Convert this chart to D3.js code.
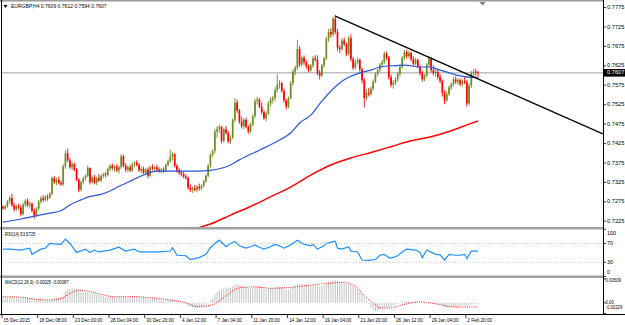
<!DOCTYPE html>
<html><head><meta charset="utf-8">
<script src="https://cdn.jsdelivr.net/npm/d3@7"></script>
<style>body{margin:0;background:#fff}svg{display:block}text{font-family:"Liberation Sans",Arial,sans-serif}</style>
</head><body><svg id="c" width="625" height="325"></svg>
<script>
// ---- DATA ----
const symbolTitle = "EURGBP,H4  0.7609 0.7612 0.7594 0.7607";
// [open, high, low, close] per H4 bar
const candles = [
[.7262,.7266,.7255,.7258],[.7258,.7268,.7254,.7264],[.7264,.7280,.7260,.7276],[.7276,.7290,.7270,.7285],[.7285,.7296,.7262,.7266],
[.7266,.7272,.7250,.7256],[.7256,.7268,.7252,.7264],[.7264,.7270,.7255,.7260],[.7260,.7266,.7238,.7244],[.7244,.7272,.7240,.7268],
[.7268,.7282,.7262,.7278],[.7278,.7284,.7262,.7266],[.7266,.7276,.7258,.7270],[.7270,.7274,.7248,.7252],[.7252,.7258,.7232,.7240],
[.7240,.7262,.7236,.7258],[.7258,.7280,.7254,.7276],[.7276,.7290,.7270,.7284],[.7284,.7292,.7274,.7280],[.7280,.7292,.7276,.7288],
[.7288,.7294,.7278,.7286],[.7286,.7300,.7282,.7296],[.7296,.7340,.7292,.7336],[.7336,.7342,.7320,.7326],[.7326,.7338,.7318,.7332],
[.7332,.7340,.7320,.7324],[.7324,.7330,.7316,.7320],[.7320,.7372,.7316,.7366],[.7366,.7408,.7360,.7400],[.7400,.7412,.7378,.7382],
[.7382,.7388,.7360,.7364],[.7364,.7378,.7356,.7372],[.7372,.7376,.7354,.7358],[.7358,.7362,.7328,.7332],[.7332,.7336,.7300,.7306],
[.7306,.7330,.7302,.7326],[.7326,.7340,.7320,.7336],[.7336,.7346,.7330,.7342],[.7342,.7368,.7338,.7362],[.7362,.7364,.7320,.7326],
[.7326,.7342,.7322,.7338],[.7338,.7344,.7320,.7324],[.7324,.7340,.7318,.7336],[.7336,.7346,.7326,.7330],[.7330,.7346,.7326,.7342],
[.7342,.7350,.7336,.7346],[.7346,.7352,.7338,.7344],[.7344,.7364,.7340,.7360],[.7360,.7372,.7354,.7368],[.7368,.7374,.7356,.7362],
[.7362,.7370,.7352,.7366],[.7366,.7372,.7352,.7356],[.7356,.7368,.7348,.7364],[.7364,.7398,.7360,.7392],[.7392,.7396,.7364,.7368],
[.7368,.7374,.7352,.7358],[.7358,.7368,.7350,.7364],[.7364,.7370,.7352,.7356],[.7356,.7376,.7352,.7372],[.7372,.7380,.7364,.7376],
[.7376,.7382,.7366,.7370],[.7370,.7374,.7352,.7356],[.7356,.7366,.7348,.7360],[.7360,.7366,.7346,.7350],[.7350,.7362,.7344,.7358],
[.7358,.7364,.7336,.7342],[.7342,.7368,.7340,.7364],[.7364,.7372,.7356,.7360],[.7360,.7368,.7352,.7364],[.7364,.7370,.7354,.7358],
[.7358,.7364,.7350,.7354],[.7354,.7362,.7348,.7358],[.7358,.7364,.7350,.7356],[.7356,.7374,.7352,.7370],[.7370,.7384,.7366,.7380],
[.7380,.7410,.7376,.7392],[.7392,.7404,.7382,.7398],[.7398,.7400,.7364,.7368],[.7368,.7372,.7350,.7356],[.7356,.7362,.7344,.7350],
[.7350,.7356,.7340,.7346],[.7346,.7352,.7336,.7340],[.7340,.7346,.7332,.7336],[.7336,.7340,.7306,.7312],[.7312,.7320,.7300,.7306],
[.7306,.7314,.7298,.7310],[.7310,.7318,.7302,.7306],[.7306,.7318,.7300,.7314],[.7314,.7322,.7304,.7310],[.7310,.7320,.7304,.7316],
[.7316,.7332,.7312,.7328],[.7328,.7346,.7324,.7342],[.7342,.7372,.7338,.7368],[.7368,.7400,.7362,.7396],[.7396,.7410,.7390,.7406],
[.7406,.7462,.7400,.7456],[.7456,.7470,.7440,.7462],[.7462,.7474,.7452,.7468],[.7468,.7470,.7426,.7432],[.7432,.7466,.7428,.7462],
[.7462,.7470,.7448,.7452],[.7452,.7458,.7426,.7430],[.7430,.7446,.7424,.7440],[.7440,.7490,.7436,.7486],[.7486,.7542,.7480,.7530],
[.7530,.7538,.7504,.7510],[.7510,.7514,.7476,.7482],[.7482,.7494,.7464,.7470],[.7470,.7490,.7462,.7486],[.7486,.7492,.7464,.7468],
[.7468,.7472,.7450,.7456],[.7456,.7478,.7452,.7474],[.7474,.7500,.7470,.7496],[.7496,.7540,.7490,.7534],[.7534,.7546,.7526,.7538],
[.7538,.7542,.7516,.7520],[.7520,.7530,.7500,.7506],[.7506,.7512,.7486,.7490],[.7490,.7508,.7482,.7502],[.7502,.7534,.7498,.7528],
[.7528,.7544,.7520,.7538],[.7538,.7548,.7528,.7542],[.7542,.7570,.7534,.7562],[.7562,.7604,.7556,.7576],[.7576,.7588,.7566,.7580],
[.7580,.7584,.7556,.7560],[.7560,.7566,.7530,.7536],[.7536,.7540,.7512,.7520],[.7520,.7546,.7516,.7542],[.7542,.7586,.7538,.7580],
[.7580,.7616,.7574,.7610],[.7610,.7626,.7600,.7620],[.7620,.7692,.7614,.7668],[.7668,.7676,.7622,.7628],[.7628,.7650,.7624,.7646],
[.7646,.7652,.7628,.7634],[.7634,.7640,.7618,.7624],[.7624,.7628,.7608,.7614],[.7614,.7630,.7610,.7626],[.7626,.7650,.7620,.7644],
[.7644,.7652,.7636,.7640],[.7640,.7652,.7600,.7606],[.7606,.7614,.7590,.7600],[.7600,.7630,.7596,.7626],[.7626,.7648,.7620,.7644],
[.7644,.7700,.7640,.7694],[.7694,.7720,.7686,.7712],[.7712,.7722,.7698,.7706],[.7706,.7752,.7700,.7746],[.7746,.7756,.7706,.7712],
[.7712,.7720,.7664,.7672],[.7672,.7678,.7658,.7668],[.7668,.7696,.7664,.7690],[.7690,.7698,.7676,.7680],[.7680,.7684,.7650,.7656],
[.7656,.7702,.7652,.7696],[.7696,.7706,.7636,.7642],[.7642,.7648,.7614,.7620],[.7620,.7640,.7616,.7634],[.7634,.7646,.7628,.7640],
[.7640,.7644,.7610,.7616],[.7616,.7620,.7580,.7588],[.7588,.7594,.7518,.7542],[.7542,.7564,.7536,.7556],[.7556,.7568,.7546,.7552],
[.7552,.7572,.7548,.7566],[.7566,.7590,.7560,.7584],[.7584,.7608,.7580,.7604],[.7604,.7618,.7598,.7614],[.7614,.7632,.7608,.7628],
[.7628,.7640,.7620,.7634],[.7634,.7662,.7630,.7656],[.7656,.7662,.7640,.7646],[.7646,.7650,.7590,.7596],[.7596,.7602,.7570,.7576],
[.7576,.7588,.7566,.7582],[.7582,.7596,.7576,.7590],[.7590,.7610,.7584,.7604],[.7604,.7628,.7598,.7622],[.7622,.7650,.7618,.7646],
[.7646,.7666,.7640,.7660],[.7660,.7666,.7644,.7650],[.7650,.7664,.7644,.7658],[.7658,.7662,.7636,.7642],[.7642,.7650,.7624,.7630],
[.7630,.7646,.7626,.7640],[.7640,.7644,.7618,.7622],[.7622,.7628,.7600,.7606],[.7606,.7612,.7584,.7590],[.7590,.7604,.7586,.7600],
[.7600,.7632,.7596,.7628],[.7628,.7650,.7624,.7644],[.7644,.7648,.7608,.7614],[.7614,.7626,.7600,.7606],[.7606,.7616,.7596,.7610],
[.7610,.7614,.7590,.7596],[.7596,.7604,.7580,.7586],[.7586,.7590,.7546,.7556],[.7556,.7562,.7526,.7536],[.7536,.7560,.7532,.7552],
[.7552,.7574,.7548,.7570],[.7570,.7582,.7562,.7578],[.7578,.7596,.7572,.7590],[.7590,.7598,.7578,.7584],[.7584,.7594,.7576,.7588],
[.7588,.7592,.7572,.7578],[.7578,.7590,.7572,.7586],[.7586,.7596,.7578,.7582],[.7582,.7588,.7520,.7528],[.7528,.7580,.7524,.7574],
[.7574,.7612,.7568,.7606],[.7606,.7616,.7596,.7610],[.7610,.7618,.7598,.7609],[.7609,.7612,.7594,.7607]
];
const lastClose = 0.7607;

// Moving averages (bar index, value)
const maBlueBars = [0,8,13,21,26,30,35,39,43,48,52,58,63,66,70,88,93,102,106,115,124,129,133,138,142,149,153,160,165,169,174,180,187,191,196,200,205,213];
const maBlueVals = [.7223,.7231,.7237,.7246,.7252,.7267,.7280,.7289,.7293,.7303,.7315,.7331,.7344,.7351,.7354,.7354,.7356,.7370,.7383,.7408,.7434,.7452,.7478,.7498,.7527,.7571,.7589,.7607,.7614,.7622,.7625,.7627,.7622,.7622,.7614,.7607,.7599,.7594];
const maRedBars = [86,88,93,102,111,120,129,138,147,156,165,174,183,191,200,209,213];
const maRedVals = [.7205,.7209,.7218,.7241,.7263,.7288,.7313,.7344,.7370,.7388,.7402,.7417,.7432,.7441,.7456,.7475,.7483];

// Trend line (bar index, price)
const trendBars = [149, 269];
const trendVals = [0.7753, 0.7450];

// RSI(14)
const rsiBars = [0,3,8,12,13,17,19,21,23,26,28,30,33,37,39,41,43,48,52,55,59,61,66,70,75,76,78,82,84,86,88,91,93,95,97,100,102,104,106,109,111,113,115,117,120,122,124,126,129,132,135,138,139,141,144,145,148,149,150,152,155,156,159,161,164,167,169,171,173,174,177,179,181,185,186,187,188,190,194,196,198,200,203,205,207,208,210,213];
const rsiVals = [58,58,56,60,47,58,60,70,69,68,79,70,51,58,51,56,52,56,62,54,58,52,52,52,54,61,45,44,36,38,40,47,61,70,77,63,70,74,65,60,63,67,62,58,63,68,65,60,67,77,68,65,68,58,65,70,74,75,60,58,63,54,52,35,34,36,45,47,40,39,44,52,58,56,54,51,40,56,47,46,35,47,45,45,47,38,54,53.57];

// MACD(12,26,9) main (histogram) per bar
const macdMain = [
.0013,.0013,.0012,.0013,.0013,.0012,.0011,.0011,.0010,.0010,.0011,.0011,
.0010,.0009,.0008,.0007,.0007,.0007,.0007,.0006,.0005,.0005,.0008,.0010,
.0011,.0011,.0011,.0016,.0024,.0028,.0030,.0031,
.0031,.0030,.0027,.0025,.0024,.0023,
.0023,.0022,.0021,.0019,
.0018,.0016,.0015,.0014,.0013,.0013,.0013,
.0013,.0013,.0012,.0012,.0014,.0014,.0013,.0012,.0012,
.0013,.0014,.0014,.0013,.0012,.0011,.0011,
.0009,.0010,.0010,.0010,.0009,.0008,
.0006,.0005,.0005,.0006,.0007,.0007,.0005,
.0003,.0001,.0000,-.0001,-.0002,
-.0006,-.0009,-.0010,-.0011,-.0011,-.0010,
-.0009,-.0007,-.0004,.0000,.0005,
.0010,.0018,.0023,.0027,
.0028,.0031,.0033,.0032,.0033,
.0036,.0040,.0040,.0039,.0037,.0036,
.0034,.0031,.0030,.0031,.0034,.0035,.0034,.0032,.0029,
.0029,.0030,.0031,.0032,.0034,.0035,.0035,.0034,.0031,
.0028,.0028,.0031,.0034,.0036,.0041,.0040,
.0040,.0040,.0039,.0037,.0037,.0038,.0038,.0036,.0034,
.0035,.0037,.0041,.0044,.0045,
.0048,.0048,.0046,.0044,.0045,.0044,
.0041,.0042,.0039,.0035,.0033,
.0031,.0027,.0020,.0010,
.0005,-.0003,-.0010,-.0015,-.0018,-.0017,-.0015,-.0013,
-.0011,-.0010,-.0010,-.0009,
-.0006,-.0004,-.0002,.0000,
.0003,.0004,.0004,.0004,.0003,.0002,.0002,
.0001,.0000,-.0002,-.0002,.0000,.0001,
.0000,-.0001,-.0002,-.0003,-.0004,-.0006,-.0009,
-.0010,-.0009,-.0009,-.0008,-.0008,-.0007,-.0007,
-.0006,-.0006,-.0009,-.0006,-.0004,-.0003,-.0003,-.00025
];
const signalBars = [0,8,14,21,26,30,34,38,44,50,59,66,75,82,87,91,95,100,106,113,120,126,133,140,149,153,156,159,162,166,169,174,178,183,187,191,196,200,205,213];
const signalVals = [.0013,.0012,.0008,.0006,.0009,.0020,.0027,.0025,.0018,.0013,.0013,.0011,.0006,.0000,-.0008,-.0007,-.0002,.0015,.0032,.0034,.0031,.0032,.0035,.0039,.0043,.0044,.0040,.0032,.0015,.0000,-.0011,-.0011,-.0006,.0000,.0002,.0000,-.0004,-.0008,-.0009,-.00087];

// Axis ticks
const priceTicks = [0.7775,0.7725,0.7675,0.7625,0.7575,0.7525,0.7475,0.7425,0.7375,0.7325,0.7275,0.7225];
const rsiTicks = [100,70,30,0];
const macdTicks = [0.00509,0.00,-0.00229];
const macdTickLabels = ["0.00509","0.00","-0.00229"];
const timeBars = [0,16,32,48,64,80,96,112,128,144,160,176,192,208];
const timeLabels = ["15 Dec 2015","18 Dec 08:00","23 Dec 00:00","28 Dec 04:00","30 Dec 20:00","4 Jan 12:00","7 Jan 04:00","11 Jan 20:00","14 Jan 12:00","19 Jan 04:00","21 Jan 20:00","26 Jan 12:00","29 Jan 04:00","2 Feb 20:00"];
const rsiTitle = "RSI(14) 53.5725";
const macdTitle = "MACD(12,26,9) -0.00025 -0.00087";

// ---- LAYOUT ----
const svg = d3.select("#c");
const L = 2, R = 603;
const main = {top: 2, bottom: 227};
const rsiP = {top: 229.5, bottom: 275.5};
const macdP = {top: 278, bottom: 314};
const FS = 6;

const x = d3.scaleLinear().domain([0, 213]).range([3, 478]);
const yP = d3.scaleLinear().domain([0.7225, 0.7775]).range([221.3, 7.5]);
const yR = d3.scaleLinear().domain([0, 100]).range([276.5, 229.3]);
const yM = d3.scaleLinear().domain([-0.00229, 0.00509]).range([313.5, 279]);

// narrow text helper (MT4 small font is narrow)
function ntext(sel, tx, ty, str, size, sx, fill) {
  return sel.append("text").attr("transform", `translate(${tx},${ty}) scale(${sx},1)`)
    .attr("dominant-baseline", "middle").attr("font-size", size).attr("fill", fill || "#000").text(str);
}

svg.append("rect").attr("width", 625).attr("height", 325).attr("fill", "#fff");

const defs = svg.append("defs");
function clip(id, p){ defs.append("clipPath").attr("id", id).append("rect").attr("x", L).attr("y", p.top).attr("width", R - L).attr("height", p.bottom - p.top); }
clip("cm", main); clip("cr", rsiP); clip("cd", macdP);

// frame
svg.append("rect").attr("x", 0).attr("y", 0).attr("width", R).attr("height", 1.5).attr("fill", "#9a9a9a");
svg.append("rect").attr("x", 0).attr("y", 227).attr("width", R).attr("height", 2.5).attr("fill", "#a0a0a0");
svg.append("rect").attr("x", 0).attr("y", 275.5).attr("width", R).attr("height", 2.5).attr("fill", "#a0a0a0");
svg.append("line").attr("x1", 0).attr("x2", 625).attr("y1", 314.5).attr("y2", 314.5).attr("stroke", "#000").attr("stroke-width", 1);
svg.append("line").attr("x1", 1.5).attr("x2", 1.5).attr("y1", 0).attr("y2", 314.5).attr("stroke", "#000").attr("stroke-width", 1);
svg.append("line").attr("x1", R + 0.5).attr("x2", R + 0.5).attr("y1", 0).attr("y2", 314.5).attr("stroke", "#000").attr("stroke-width", 1);

// ---- MAIN PANEL ----
const gm = svg.append("g").attr("clip-path", "url(#cm)");
gm.append("line").attr("x1", L).attr("x2", R).attr("y1", yP(lastClose)).attr("y2", yP(lastClose))
  .attr("stroke", "#c0c0c0").attr("stroke-width", 1.6);

const up = "#6b8e23", dn = "#ff0000";
const cg = gm.append("g");
cg.selectAll("line.w").data(candles).join("line")
  .attr("x1", (d, i) => x(i)).attr("x2", (d, i) => x(i))
  .attr("y1", d => yP(d[1])).attr("y2", d => yP(d[2]))
  .attr("stroke", d => d[3] >= d[0] ? up : dn).attr("stroke-width", 0.9);
cg.selectAll("rect.b").data(candles).join("rect")
  .attr("x", (d, i) => x(i) - 0.85).attr("width", 1.7)
  .attr("y", d => yP(Math.max(d[0], d[3])))
  .attr("height", d => Math.max(0.8, Math.abs(yP(d[0]) - yP(d[3]))))
  .attr("fill", d => d[3] >= d[0] ? up : dn);

const lineFn = d3.line().curve(d3.curveMonotoneX);
gm.append("path").attr("d", lineFn(maBlueBars.map((b, i) => [x(b), yP(maBlueVals[i])])))
  .attr("fill", "none").attr("stroke", "#2a55d6").attr("stroke-width", 1.2);
gm.append("path").attr("d", lineFn(maRedBars.map((b, i) => [x(b), yP(maRedVals[i])])))
  .attr("fill", "none").attr("stroke", "#ff0000").attr("stroke-width", 1.5);
gm.append("path").attr("d", d3.line()(trendBars.map((b, i) => [x(b), yP(trendVals[i])])))
  .attr("fill", "none").attr("stroke", "#000").attr("stroke-width", 1.3);

// title
svg.append("path").attr("d", "M3.5,5 L7.5,5 L5.5,8 Z").attr("fill", "#000");
ntext(svg, 11, 6.5, symbolTitle, 6, 0.84);
// shift marker
svg.append("path").attr("d", "M479.5,2 L485.5,2 L482.5,5.5 Z").attr("fill", "#7a7a7a");

// price axis
const pa = svg.append("g");
pa.selectAll("line").data(priceTicks).join("line")
  .attr("x1", R).attr("x2", R + 3).attr("y1", d => yP(d)).attr("y2", d => yP(d)).attr("stroke", "#000").attr("stroke-width", 0.8);
priceTicks.forEach(d => ntext(pa, R + 4, yP(d), d.toFixed(4), FS, 0.95));
svg.append("rect").attr("x", R + 1).attr("y", yP(lastClose) - 3.8).attr("width", 21).attr("height", 7.6).attr("fill", "#000");
ntext(svg, R + 4, yP(lastClose), lastClose.toFixed(4), FS, 0.95, "#fff");

// ---- RSI PANEL ----
const gr = svg.append("g").attr("clip-path", "url(#cr)");
[70, 30].forEach(v => gr.append("line").attr("x1", L).attr("x2", R).attr("y1", yR(v)).attr("y2", yR(v))
  .attr("stroke", "#b0b0b0").attr("stroke-width", 0.8).attr("stroke-dasharray", "1,2"));
gr.append("path").attr("d", d3.line()(rsiBars.map((b, i) => [x(b), yR(rsiVals[i])])))
  .attr("fill", "none").attr("stroke", "#1e90ff").attr("stroke-width", 1.2);
ntext(svg, 5, 234.5, rsiTitle, 5.6, 0.74);
const ra = svg.append("g");
ra.selectAll("line").data(rsiTicks).join("line")
  .attr("x1", R).attr("x2", R + 3).attr("y1", d => yR(d)).attr("y2", d => yR(d)).attr("stroke", "#000").attr("stroke-width", 0.8);
rsiTicks.forEach(d => ntext(ra, R + 4, Math.min(Math.max(yR(d), rsiP.top + 3.5), rsiP.bottom - 3.5), String(d), FS, 0.9));

// ---- MACD PANEL ----
const gd = svg.append("g").attr("clip-path", "url(#cd)");
gd.selectAll("line.h").data(macdMain).join("line")
  .attr("x1", (d, i) => x(i)).attr("x2", (d, i) => x(i))
  .attr("y1", yM(0)).attr("y2", d => yM(d))
  .attr("stroke", "#c4c4c4").attr("stroke-width", 1);
gd.append("path").attr("d", lineFn(signalBars.map((b, i) => [x(b), yM(signalVals[i])])))
  .attr("fill", "none").attr("stroke", "#ff0000").attr("stroke-width", 0.9).attr("stroke-dasharray", "1,1.2");
ntext(svg, 5, 282.5, macdTitle, 5.6, 0.74);
const ma = svg.append("g");
ma.selectAll("line").data(macdTicks).join("line")
  .attr("x1", R).attr("x2", R + 3).attr("y1", d => yM(d)).attr("y2", d => yM(d)).attr("stroke", "#000").attr("stroke-width", 0.8);
macdTicks.forEach((d, i) => ntext(ma, R + 2.5, Math.min(Math.max(yM(d), macdP.top + 3), macdP.bottom - 6), macdTickLabels[i], 5.5, 0.78));

// ---- TIME AXIS ----
const ta = svg.append("g");
ta.selectAll("line").data(timeBars).join("line")
  .attr("x1", d => x(d) - 1).attr("x2", d => x(d) - 1).attr("y1", 314.5).attr("y2", 318).attr("stroke", "#000").attr("stroke-width", 0.8);
timeBars.forEach((d, i) => ntext(ta, x(d) + 0.5, 320.8, timeLabels[i], 5.8, 0.8));
</script></body></html>
